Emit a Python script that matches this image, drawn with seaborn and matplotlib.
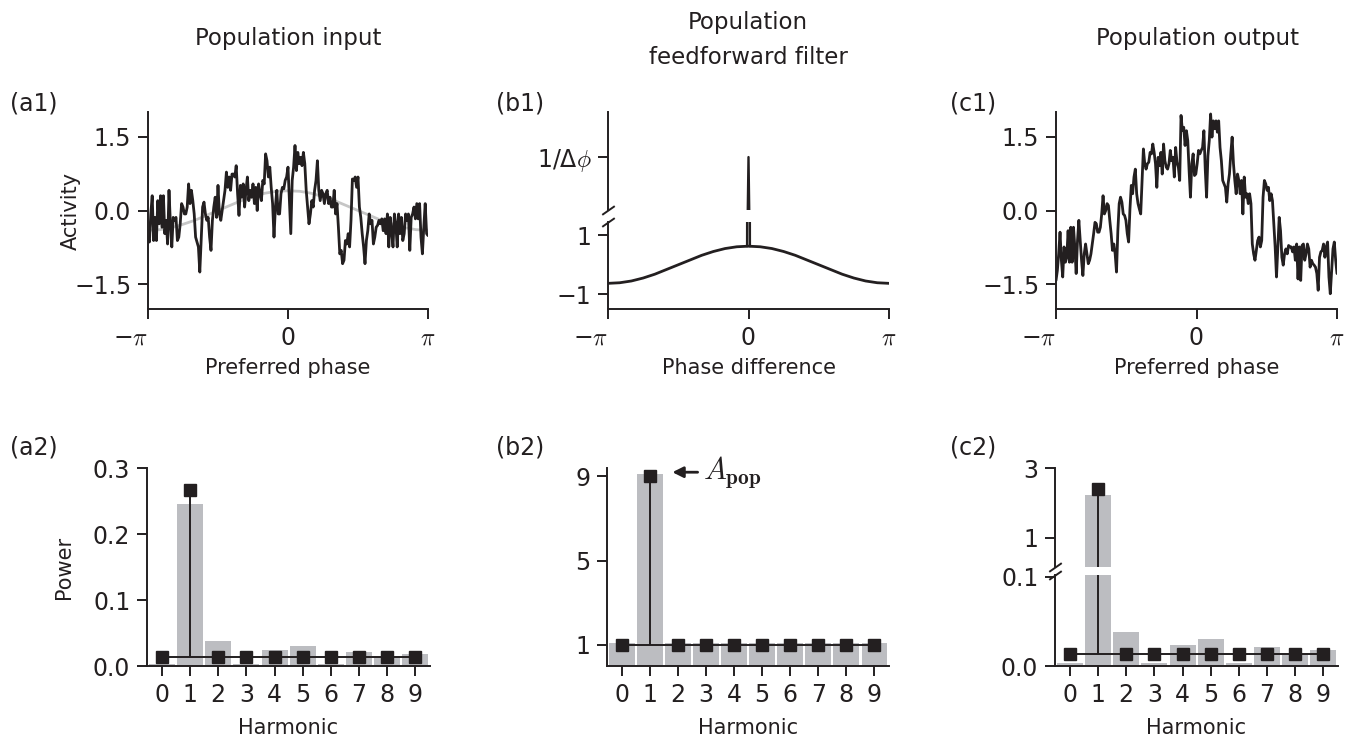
import numpy as np
import pandas as pd
import matplotlib
matplotlib.use("Agg")
import matplotlib.pyplot as plt
import seaborn as sns

# ---------------- data ----------------
input_activity = [
    -0.54, -0.64, -0.07, 0.30, -0.61, -0.14, -0.61, 0.20, -0.27, 0.30,
    -0.34, 0.30, -0.47, -0.20, -0.68, 0.41, -0.27, -0.74, -0.14, -0.20,
    -0.14, -0.61, -0.54, -0.27, 0.14, 0.07, -0.07, -0.07, 0.07, 0.54,
    0.14, 0.41, 0.20, -0.07, -0.54, -0.64, -0.74, -1.25, -0.61, 0.07,
    0.17, -0.07, -0.20, -0.14, -0.54, -0.81, -0.20, 0.07, 0.27, -0.14,
    0.51, -0.07, -0.20, 0.00, 0.20, 0.41, 0.78, 0.47, 0.68, 0.41,
    0.74, 0.74, 0.68, 0.91, 0.34, -0.10, 0.51, 0.27, 0.54, 0.07,
    0.41, 0.68, 0.20, 0.41, 0.27, 0.54, 0.14, 0.47, 0.00, 0.54,
    0.34, 0.20, 0.61, 0.54, 1.15, 1.01, 0.68, 0.88, 0.47, 0.14,
    -0.54, 0.07, 0.41, -0.07, -0.07, 0.34, 0.47, 0.44, 0.61, 0.68,
    0.88, 0.20, -0.47, 0.61, 0.88, 1.32, 0.81, 1.18, 0.95, 1.08,
    0.91, 1.18, 0.95, 0.41, 0.07, -0.27, -0.07, 0.20, 0.07, 0.41,
    0.61, 1.01, 0.41, 0.20, 0.41, 0.34, 0.14, 0.34, 0.41, 0.14,
    0.27, 0.07, 0.07, 0.41, -0.07, 0.14, -0.34, -0.88, -0.81, -1.08,
    -1.01, -0.61, -0.68, -0.47, -0.74, -0.20, 0.64, 0.61, 0.68, 0.47,
    0.68, 0.07, -0.14, -0.47, -0.74, -1.08, -0.61, -0.41, -0.07, -0.27,
    -0.20, -0.68, -0.54, -0.34, -0.30, -0.20, -0.27, -0.17, -0.41, -0.17,
    -0.47, -0.07, -0.74, -0.14, -0.41, -0.74, -0.07, -0.27, -0.74, -0.07,
    -0.47, -0.14, -0.61, -0.47, -0.07, -0.20, -0.07, -0.81, -0.14, -0.07,
    0.07, -0.17, 0.14, -0.17, 0.14, -0.54, -0.88, -0.34, 0.14, -0.47,
    -0.51,
]

output_activity = [
    -1.42, -1.22, -0.88, -0.44, -1.01, -1.35, -0.74, -1.05, -0.95, -0.41,
    -1.05, -0.34, -1.05, -0.34, -0.74, -1.28, -0.61, -0.20, -0.61, -1.01,
    -1.32, -0.88, -0.68, -0.88, -1.08, -1.01, -0.88, -0.68, -0.47, -0.24,
    -0.27, -0.44, -0.44, -0.34, -0.07, 0.30, -0.07, 0.00, 0.14, 0.10,
    -0.20, -0.47, -0.81, -0.68, -0.88, -1.25, -0.41, 0.14, 0.27, 0.17,
    -0.07, -0.10, -0.20, -0.47, -0.64, 0.03, 0.51, 0.34, 0.68, 0.84,
    0.34, 0.14, 0.03, -0.07, 0.61, 1.25, 0.95, 0.84, 0.95, 0.98,
    1.18, 1.15, 1.35, 1.18, 0.95, 0.47, 1.08, 0.91, 1.18, 0.74,
    1.35, 1.01, 0.88, 0.84, 0.95, 1.22, 1.01, 1.08, 0.68, 1.28,
    0.98, 0.88, 0.61, 1.93, 1.62, 1.69, 1.32, 1.62, 1.42, 0.81,
    0.27, 0.95, 1.15, 0.71, 0.74, 0.95, 1.22, 1.15, 1.22, 1.28,
    1.62, 0.84, 0.27, 1.11, 1.42, 1.96, 1.49, 1.82, 1.66, 1.82,
    1.59, 1.82, 1.28, 1.01, 0.61, 0.54, 0.47, 0.17, 0.54, 0.74,
    1.15, 1.49, 0.95, 0.61, 0.34, 0.74, 0.61, 0.34, 0.61, -0.07,
    0.68, 0.27, 0.34, 0.14, 0.34, 0.14, -0.68, -0.88, -1.01, -0.81,
    -0.61, -0.54, -0.74, -0.61, 0.27, 0.61, 0.54, 0.41, 0.47, 0.20,
    0.34, 0.20, -0.27, -0.74, -1.35, -0.74, -0.14, -0.41, -0.95, -1.11,
    -0.88, -0.78, -0.88, -0.71, -0.74, -0.74, -0.84, -0.74, -1.01, -0.68,
    -1.39, -0.74, -1.42, -0.71, -0.68, -1.01, -0.88, -0.68, -0.78, -1.15,
    -1.01, -1.08, -1.11, -1.15, -1.28, -1.62, -0.95, -0.84, -0.81, -0.68,
    -0.95, -0.74, -0.64, -1.35, -1.69, -1.22, -0.78, -0.64, -1.01, -1.28,
]

input_mean = [-0.40, -0.39, -0.35, -0.28, -0.20, -0.10, 0.00, 0.10, 0.20, 0.28,
              0.35, 0.39, 0.40, 0.39, 0.35, 0.28, 0.20, 0.10, 0.00, -0.10,
              -0.20, -0.28, -0.35, -0.39, -0.40]

filter_smooth = [-0.63, -0.61, -0.55, -0.45, -0.32, -0.16, 0.00, 0.16, 0.32, 0.45,
                 0.55, 0.61, 0.63, 0.61, 0.55, 0.45, 0.32, 0.16, 0.00, -0.16,
                 -0.32, -0.45, -0.55, -0.61, -0.63]
n_neurons = 200
delta_phi = 2 * np.pi / n_neurons
filter_peak = 1 / delta_phi

harmonics = list(range(10))
input_power_bars = [0.003, 0.245, 0.038, 0.003, 0.024, 0.030, 0.003, 0.021, 0.015, 0.018]
input_power_expected = [0.014, 0.267, 0.014, 0.014, 0.014, 0.014, 0.014, 0.014, 0.014, 0.014]
filter_power_bars = [1.1, 9.1, 1.1, 1.1, 1.1, 1.1, 1.1, 1.1, 1.1, 1.1]
filter_power_expected = [1, 9, 1, 1, 1, 1, 1, 1, 1, 1]
output_power_bars = [0.003, 2.23, 0.038, 0.003, 0.024, 0.030, 0.003, 0.021, 0.015, 0.018]
output_power_expected = [0.014, 2.40, 0.014, 0.014, 0.014, 0.014, 0.014, 0.014, 0.014, 0.014]

# ---------------- style ----------------
sns.set_theme(style="ticks")
plt.rcParams["font.family"] = ["DejaVu Sans"]
plt.rcParams["mathtext.fontset"] = "cm"
plt.rcParams["axes.linewidth"] = 1.4
plt.rcParams["axes.edgecolor"] = "#231f20"

K = "#231f20"
GRAY_BAR = "#bcbdc1"
GRAY_LINE = "#c6c6c6"
TICK_FS = 17
LABEL_FS = 15
TITLE_FS = 16.5
PANEL_FS = 17

W, H = 1358, 739
fig = plt.figure(figsize=(W / 100, H / 100), dpi=100)


def add_ax(left, top, right, bottom):
    return fig.add_axes([left / W, 1 - bottom / H, (right - left) / W, (bottom - top) / H])


def style(ax):
    sns.despine(ax=ax)
    ax.tick_params(direction="out", length=7, width=1.4, labelsize=TICK_FS, pad=5, color=K, labelcolor=K)
    ax.set_facecolor("none")


def pi_ticks(ax):
    ax.set_xlim(-np.pi, np.pi)
    ax.set_xticks([-np.pi, 0, np.pi])
    ax.set_xticklabels(["\u2212$\\pi$", "0", "$\\pi$"])
    ax.get_xticklabels()[0].set_ha("right")


def break_marks(ax, y):
    ax.plot([0], [y], transform=ax.transAxes, marker=[(-1, -0.7), (1, 0.7)],
            markersize=9, linestyle="none", color=K, mec=K, mew=1.4, clip_on=False)


def stems(ax, vals, base):
    ml, sl, bl = ax.stem(harmonics, vals, bottom=base, linefmt="-", markerfmt="s", basefmt="-")
    plt.setp(sl, color=K, lw=1.4)
    plt.setp(ml, color=K, ms=8.5, zorder=4)
    plt.setp(bl, color=K, lw=1.4)


def bars(ax, vals):
    df = pd.DataFrame({"h": harmonics, "p": vals})
    sns.barplot(data=df, x="h", y="p", ax=ax, color=GRAY_BAR, saturation=1, width=0.92,
                edgecolor="none", errorbar=None)
    ax.set_xlim(-0.53, 9.52)
    ax.set_xlabel("Harmonic", fontsize=LABEL_FS, color=K, labelpad=8)
    ax.set_ylabel("")


# ---------------- (a1) ----------------
ax = add_ax(148, 112, 428, 309)
phase_in = np.linspace(-np.pi, np.pi, len(input_activity))
phase_mean = np.linspace(-np.pi, np.pi, len(input_mean))
sns.lineplot(x=phase_mean, y=input_mean, ax=ax, color=GRAY_LINE, lw=2)
sns.lineplot(x=phase_in, y=input_activity, ax=ax, color=K, lw=2)
ax.set_ylim(-2.0, 2.0)
ax.set_yticks([-1.5, 0, 1.5])
ax.set_yticklabels(["\u22121.5", "0.0", "1.5"])
pi_ticks(ax)
style(ax)
ax.set_xlabel("Preferred phase", fontsize=LABEL_FS, color=K, labelpad=6)
ax.set_ylabel("Activity", fontsize=LABEL_FS, color=K)
ax.yaxis.set_label_coords((81 - 148) / 280, 0.5)

# ---------------- (b1) ----------------
ax_up = add_ax(608, 112, 889, 210)
ax_lo = add_ax(608, 222, 889, 309)
phase_f = np.linspace(-np.pi, np.pi, len(filter_smooth))
sns.lineplot(x=phase_f, y=filter_smooth, ax=ax_lo, color=K, lw=2)
for a in (ax_up, ax_lo):
    a.plot([-delta_phi, 0, delta_phi], [filter_smooth[12], filter_peak, filter_smooth[12]],
           color=K, lw=1.7)
    a.set_xlim(-np.pi, np.pi)
    style(a)
span = 30.0
ax_up.set_ylim(filter_peak - 0.54 * span, filter_peak + 0.46 * span)
ax_up.set_yticks([filter_peak])
ax_up.set_yticklabels(["1/\u0394$\\phi$"])
ax_up.spines["bottom"].set_visible(False)
ax_up.tick_params(axis="x", bottom=False, labelbottom=False)
ax_lo.set_ylim(-1.5, 1.45)
ax_lo.set_yticks([-1, 1])
ax_lo.set_yticklabels(["\u22121", "1"])
pi_ticks(ax_lo)
ax_lo.set_xlabel("Phase difference", fontsize=LABEL_FS, color=K, labelpad=6)
break_marks(ax_up, 0)
break_marks(ax_lo, 1)

# ---------------- (c1) ----------------
ax = add_ax(1056, 112, 1337, 309)
phase_out = np.linspace(-np.pi, np.pi, len(output_activity))
sns.lineplot(x=phase_out, y=output_activity, ax=ax, color=K, lw=2)
ax.set_ylim(-2.0, 2.0)
ax.set_yticks([-1.5, 0, 1.5])
ax.set_yticklabels(["\u22121.5", "0.0", "1.5"])
pi_ticks(ax)
style(ax)
ax.set_xlabel("Preferred phase", fontsize=LABEL_FS, color=K, labelpad=6)
ax.set_ylabel("")

# ---------------- (a2) ----------------
ax = add_ax(147, 468, 430, 666)
bars(ax, input_power_bars)
stems(ax, input_power_expected, input_power_expected[0])
ax.set_ylim(0, 0.3)
ax.set_yticks([0, 0.1, 0.2, 0.3])
ax.set_yticklabels(["0.0", "0.1", "0.2", "0.3"])
style(ax)
ax.set_ylabel("Power", fontsize=LABEL_FS, color=K)
ax.yaxis.set_label_coords((74 - 147) / 283, 0.5)

# ---------------- (b2) ----------------
ax = add_ax(607, 468, 889, 666)
bars(ax, filter_power_bars)
stems(ax, filter_power_expected, filter_power_expected[0])
ax.set_ylim(0, 9.4)
ax.set_yticks([1, 5, 9])
style(ax)
ax.annotate("", xy=(1.8, 9.2), xytext=(2.7, 9.2),
            arrowprops=dict(arrowstyle="-|>", color=K, lw=2, mutation_scale=16, shrinkA=0, shrinkB=0))
ax.text(2.9, 9.2, r"$A_{\mathbf{pop}}$", fontsize=22, color=K, va="center", ha="left")

# ---------------- (c2) ----------------
cx_up = add_ax(1055, 468, 1338, 567)
cx_lo = add_ax(1055, 575, 1338, 666)
bars(cx_up, output_power_bars)
bars(cx_lo, output_power_bars)
stems(cx_lo, output_power_expected, output_power_expected[0])
peak_h = harmonics[1]
cx_up.vlines(peak_h, output_power_expected[0], output_power_expected[1], color=K, lw=1.4)
cx_up.plot([peak_h], [output_power_expected[1]], marker="s", ms=8.5, color=K, zorder=4)
for a in (cx_up, cx_lo):
    style(a)
cx_up.set_ylim(0.17, 3.0)
cx_up.set_yticks([1, 3])
cx_up.spines["bottom"].set_visible(False)
cx_up.tick_params(axis="x", bottom=False, labelbottom=False)
cx_up.set_xlabel("")
cx_lo.set_ylim(0, 0.102)
cx_lo.set_yticks([0, 0.1])
cx_lo.set_yticklabels(["0.0", "0.1"])
break_marks(cx_up, 0)
break_marks(cx_lo, 1)

# ---------------- titles & panel labels ----------------
fig.text(288 / W, 1 - 38 / H, "Population input", ha="center", va="center", fontsize=TITLE_FS, color=K)
fig.text(748 / W, 1 - 40 / H, "Population\nfeedforward filter", ha="center", va="center",
         fontsize=TITLE_FS, color=K, linespacing=1.7)
fig.text(1198 / W, 1 - 38 / H, "Population output", ha="center", va="center", fontsize=TITLE_FS, color=K)

for lab, x, y in [("(a1)", 10, 103), ("(b1)", 496, 103), ("(c1)", 950, 103),
                  ("(a2)", 10, 447), ("(b2)", 496, 447), ("(c2)", 950, 447)]:
    fig.text(x / W, 1 - y / H, lab, ha="left", va="center", fontsize=PANEL_FS, color=K)

fig.savefig("out.png", dpi=100)
